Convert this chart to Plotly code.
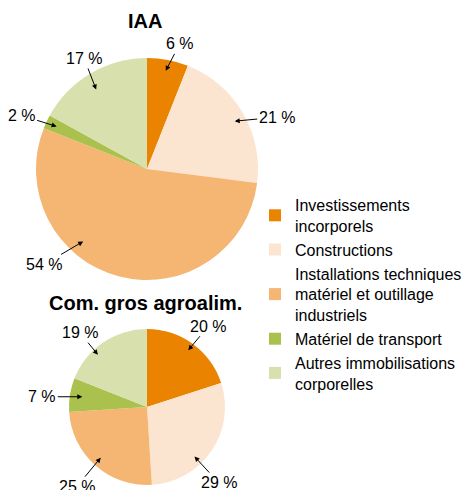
import math

import plotly.graph_objects as go

# Data
categories = [
    "Investissements<br>incorporels",
    "Constructions",
    "Installations techniques<br>matériel et outillage<br>industriels",
    "Matériel de transport",
    "Autres immobilisations<br>corporelles",
]
iaa_values = [6, 21, 54, 2, 17]
com_values = [20, 29, 25, 7, 19]
titles = ["IAA", "Com. gros agroalim."]

colors = ["#E98300", "#FBE5D0", "#F5B673", "#ABC14E", "#D8E0AE"]

W, H = 462, 490
FONT = "Liberation Sans, Arial, sans-serif"

# pie domains (paper coords)
dom_top = {"x": [36 / W, 258 / W], "y": [1 - 280 / H, 1 - 58 / H]}
dom_bot = {"x": [69 / W, 225 / W], "y": [1 - 485 / H, 1 - 329 / H]}

# label placement: (angle shift deg, tip radius fraction, ax px, ay px)
top_label_style = [(0, 0.9, 14, -27), (2, 0.9, 42, -4), (27, 0.87, -39, 23),
                   (0, 0.9, -35, -11), (-2, 0.85, -12, -31)]
bot_label_style = [(0, 0.9, 20, -24), (12, 0.88, 24, 26), (1, 0.88, -24, 29),
                   (0, 0.84, -40, 0), (-9, 0.92, -18, -22)]

fig = go.Figure()
for vals, dom, show in [(iaa_values, dom_top, True), (com_values, dom_bot, False)]:
    fig.add_trace(go.Pie(
        labels=categories,
        values=vals,
        domain=dom,
        sort=False,
        direction="clockwise",
        rotation=0,
        textinfo="none",
        hoverinfo="label+percent",
        marker={"colors": colors, "line": {"width": 0}},
        showlegend=show,
    ))

annotations = []
for vals, dom, styles, title, ty in [
    (iaa_values, dom_top, top_label_style, titles[0], 21),
    (com_values, dom_bot, bot_label_style, titles[1], 303),
]:
    cx = (dom["x"][0] + dom["x"][1]) / 2 * W
    cy = (1 - (dom["y"][0] + dom["y"][1]) / 2) * H
    r = min((dom["x"][1] - dom["x"][0]) * W, (dom["y"][1] - dom["y"][0]) * H) / 2
    total = sum(vals)
    cum = 0
    for v, (shift, frac, ax, ay) in zip(vals, styles):
        mid = (cum + v / 2) / total * 360 + shift
        cum += v
        tx = cx + frac * r * math.sin(math.radians(mid))
        tyy = cy - frac * r * math.cos(math.radians(mid))
        annotations.append(dict(
            x=tx / W, y=1 - tyy / H, xref="paper", yref="paper",
            text=f"{round(v / total * 100)} %",
            showarrow=True, arrowhead=2, arrowsize=1, arrowwidth=1,
            arrowcolor="black", ax=ax, ay=ay, standoff=0,
            font={"size": 16, "color": "black", "family": FONT},
        ))
    annotations.append(dict(
        x=(cx - 2) / W, y=1 - ty / H, xref="paper", yref="paper",
        xanchor="center", yanchor="middle",
        text=f"<b>{title}</b>", showarrow=False,
        font={"size": 20, "color": "black", "family": FONT},
    ))

fig.update_layout(
    width=W,
    height=H,
    margin={"l": 0, "r": 0, "t": 0, "b": 0, "autoexpand": False},
    paper_bgcolor="white",
    plot_bgcolor="white",
    font={"family": FONT, "size": 16, "color": "black"},
    annotations=annotations,
    legend={
        "x": 255 / W, "y": 1 - 188 / H, "xanchor": "left", "yanchor": "top",
        "font": {"size": 16, "family": FONT, "color": "black"},
        "tracegroupgap": 0, "itemwidth": 30,
        "bgcolor": "rgba(0,0,0,0)",
    },
)

fig.write_html(
    "out.html",
    config={"displayModeBar": False},
    post_script="document.body.style.margin = '0';",
)
